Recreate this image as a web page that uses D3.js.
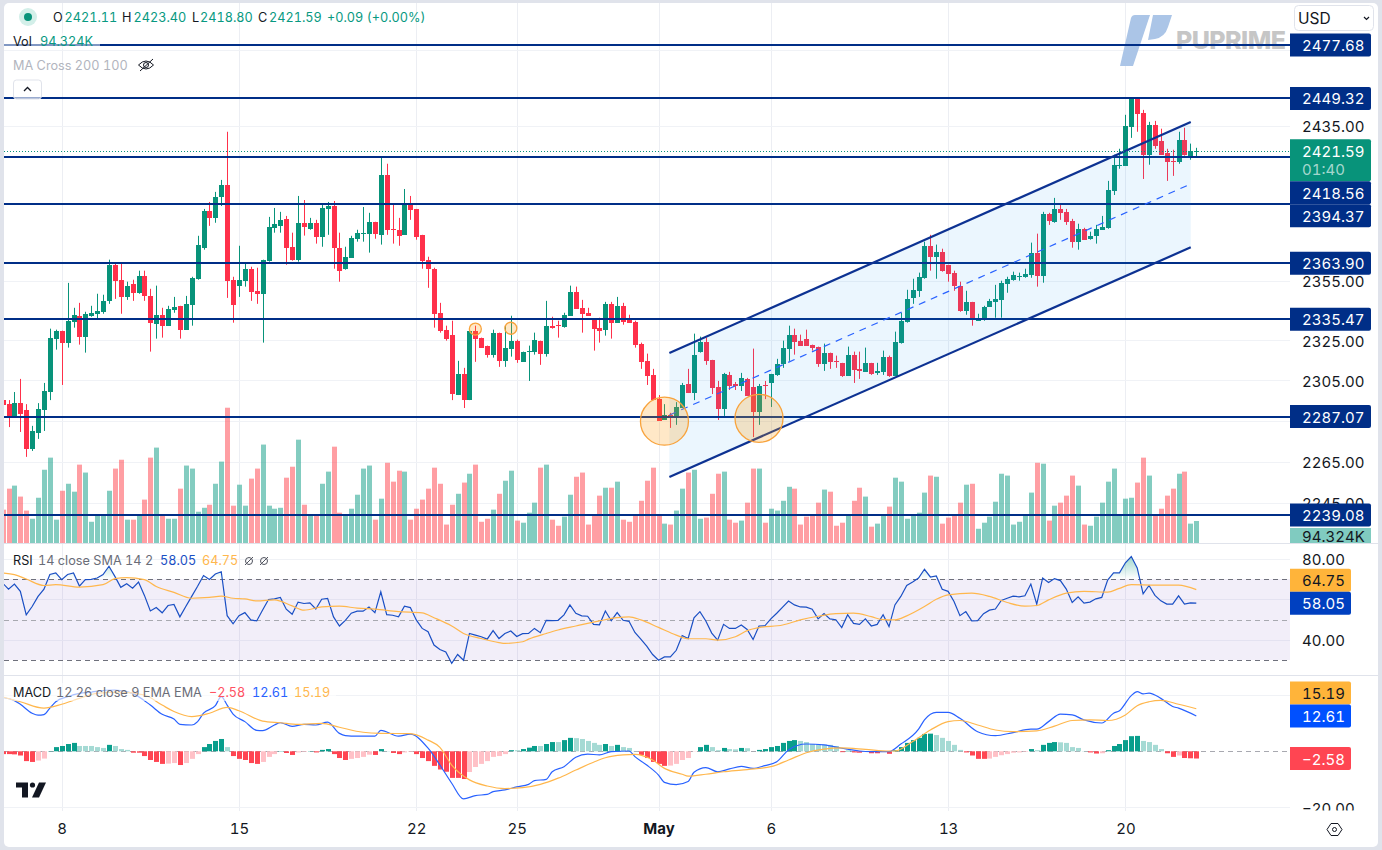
<!DOCTYPE html>
<html>
<head>
<meta charset="utf-8">
<script src="https://cdnjs.cloudflare.com/ajax/libs/d3/7.9.0/d3.min.js"></script>
<style>
  html, body { margin: 0; padding: 0; background: #e0e3eb; }
  svg { display: block; font-family: Inter, "Noto Sans", sans-serif; font-variant-numeric: tabular-nums; }
  .axis text { font-size: 15px; fill: #131722; font-family: Inter, sans-serif; }
  .axis path, .axis line { display: none; }
</style>
</head>
<body>
<svg id="chart" width="1382" height="850"></svg>
<script>
// H4 bars, first one is cut off at the left edge
let opens = [2295.2,
  2293.2,2287.3,2293.7,2290.3,2271.2,2279,2290.3,2299.2,2325.8,2329.8,
  2323.8,2334.3,2337.3,2326.8,2337.3,2338.3,2339.3,2344.8,2363.1,2355.5,
  2346.8,2353.5,2348.9,2357.5,2347.3,2333.3,2337.8,2332.3,2340.3,2342.3,
  2330.3,2342.8,2356,2371.8,2390.7,2387.1,2397.9,2404.1,2355.5,2352.5,
  2355,2361.1,2349.9,2348.4,2365.2,2382,2383,2386.6,2372.3,2365.7,
  2384.6,2381.5,2384.6,2377.4,2391.7,2393.2,2371.8,2361.1,2366.7,2376.4,
  2379.2,2379,2385.1,2378.4,2409.4,2381.5,2381,2378.4,2394.3,2391.7,
  2378.4,2365.7,2361.1,2338.8,2330.3,2327.8,2297.7,2308.2,2295.2,2329.8,
  2326.3,2322.3,2317.8,2328.8,2314.7,2320.8,2324.8,2314.2,2319.5,2319.3,
  2324.8,2318.3,2332.3,2332.8,2331.8,2337.3,2349.4,2341.3,2338.8,2335.8,
  2331.3,2330.3,2343.3,2333.8,2342.3,2335.3,2334.3,2323.3,2314.7,2307.7,
  2295.7,2285.4,2287.9,2287.4,2291.3,2303.2,2298.7,2319.3,2324.3,2315.2,
  2301.7,2290.8,2307.7,2303.2,2302.2,2305.7,2301.7,2289.3,2302.7,2303.7,
  2307.7,2313.2,2320.8,2327.8,2324.8,2325.8,2322.8,2321.8,2313.2,2318.8,
  2314.7,2313.7,2307.2,2317.8,2310.7,2309.2,2313.7,2308.7,2309.2,2316.8,
  2307.2,2323.8,2334.3,2346.3,2349.9,2356.5,2372.8,2367.2,2369.8,2363.1,
  2359.1,2352.5,2339.8,2344.3,2334.8,2335.8,2341.8,2344.3,2345.3,2353.5,
  2355.5,2357.3,2357,2358.1,2369.3,2357.5,2389.2,2385.1,2391.7,2390.2,
  2385.6,2374.9,2381.5,2376.4,2378,2381,2382,2401,2414.4,2414,
  2434.4,2449.5,2441.7,2419.8,2435.5,2427.1,2420.8,2416.7,2416.1,2427.6,2419.3,2421.11]

let highs = [2295.2,
  2295.2,2299.2,2305.7,2293.2,2282.5,2293.7,2303.7,2330.8,2330.3,2329.8,
  2353.9,2341.3,2343.8,2339.3,2342.3,2348.4,2347.9,2365.7,2364.2,2364.2,
  2354.5,2355.5,2360.1,2360.1,2350.9,2352.5,2341.3,2342.3,2346.8,2342.3,
  2347.3,2357,2377.9,2391.7,2395.3,2400.5,2406.7,2431.8,2357,2372.8,
  2364.2,2362.1,2361.6,2365.7,2387.6,2392.2,2390.2,2388.1,2379.5,2398.4,
  2396.3,2387.1,2386.1,2393.7,2395.3,2395.8,2379.5,2372.3,2377.9,2381,
  2392.7,2389.7,2385.1,2418.2,2415.1,2394.3,2387.1,2402,2398.4,2391.7,
  2378.4,2367.2,2361.6,2343.8,2332.3,2334.8,2314.7,2311.2,2329.8,2332.3,
  2326.3,2322.3,2330.3,2328.8,2332.3,2337.3,2325.3,2319.3,2322.3,2328.8,
  2324.8,2344.8,2336.8,2334.8,2338.8,2352.5,2352,2345.3,2341.3,2335.8,
  2336.3,2344.3,2344.3,2346.8,2343.8,2337.8,2334.8,2323.8,2318.3,2310.7,
  2297.7,2293.2,2288.9,2294.2,2303.7,2310.7,2328.3,2326.8,2326.3,2315.2,
  2304.7,2308.7,2309.2,2304.2,2308.7,2306.2,2320.8,2303.2,2304.7,2308.2,
  2315.7,2324.8,2332.3,2330.8,2327.8,2330.3,2322.8,2321.8,2323.3,2318.8,
  2317.3,2313.7,2321.8,2319.3,2319.3,2321.3,2313.7,2313.7,2319.8,2317.3,
  2329.3,2338.8,2350.4,2356,2359.1,2374.9,2378.4,2373.4,2371.3,2363.1,
  2360.1,2354.5,2349.9,2344.3,2338.3,2342.3,2345.8,2352.9,2355,2357,
  2359.6,2359.1,2361.1,2374.4,2379,2390.2,2389.7,2397.4,2393.7,2391.7,
  2386.6,2384.1,2382,2380,2383.5,2388.1,2406.2,2419.8,2422.9,2440.7,
  2449.5,2449.5,2443.3,2437,2437.5,2433.4,2422.9,2422.4,2431.8,2433.9,2425.6,2423.4]

let lows = [2292.7,
  2281.9,2286.4,2279.5,2267.3,2270.2,2276.1,2280,2295.2,2320.3,2302.7,
  2321.3,2331.3,2322.8,2318.8,2336.8,2335.8,2338.3,2343.3,2345.8,2338.3,
  2345.3,2344.8,2348.4,2344.8,2319.3,2325.8,2326.3,2332.3,2338.8,2325.8,
  2330.3,2332.3,2355.5,2370.8,2383,2384.6,2393.2,2346.3,2333.8,2346.8,
  2352,2344.8,2343.3,2323.8,2364.7,2379.5,2379.5,2363.1,2365.2,2364.7,
  2378,2381,2373.9,2372.3,2378.4,2361.1,2354.5,2360.6,2366.7,2374.9,
  2374.9,2369.3,2376.4,2373.4,2378.4,2373.9,2372.8,2378.4,2386.1,2375.9,
  2361.1,2351.4,2331.3,2328.8,2324.8,2295.2,2297.7,2291.3,2295.2,2314.2,
  2321.3,2316.3,2316.3,2311.7,2311.7,2316.8,2313.7,2314.2,2304.7,2317.8,
  2312.7,2316.8,2330.8,2326.3,2331.3,2337.3,2340.8,2328.8,2337.3,2319.8,
  2323.8,2327.3,2325.8,2333.8,2332.8,2333.8,2321.3,2310.7,2302.7,2295.2,
  2284.9,2285.4,2281.5,2283,2291.3,2298.7,2295.2,2318.8,2312.7,2298.2,
  2285.4,2287.4,2300.2,2300.2,2299.7,2297.2,2277,2283,2295.7,2291.8,
  2307.2,2311.2,2314.7,2317.8,2322.3,2322.3,2319.8,2311.7,2309.7,2310.7,
  2311.2,2306.7,2307.2,2303.7,2305.7,2309.2,2307.7,2307.7,2307.7,2306.7,
  2307.2,2323.3,2333.8,2343.3,2346.8,2356,2360.1,2356,2359.6,2354.5,
  2349.9,2339.3,2337.8,2332.3,2334.8,2334.8,2341.8,2336.3,2336.3,2348.9,
  2355,2355,2356.5,2356.5,2352,2354,2383.5,2384.6,2386.1,2383.5,
  2371.8,2370.8,2375.9,2375.9,2373.9,2381,2381.5,2398.9,2412.5,2414,
  2428.6,2431.8,2407.2,2414.6,2422.9,2419.8,2406.2,2408.8,2415.1,2419.3,2417.2,2418.8]

let closes = [2292.7,
  2287.3,2293.7,2288.3,2271.2,2280,2290.8,2299.7,2326.3,2329.8,2323.8,
  2334.8,2337.8,2326.8,2338.3,2338.8,2339.8,2344.8,2363.1,2355,2346.8,
  2352.5,2348.9,2357.5,2347.3,2333.8,2337.8,2332.3,2340.8,2341.8,2330.3,
  2343.3,2356.5,2373.4,2390.7,2387.1,2397.9,2404.1,2355,2342.8,2355.5,
  2361.1,2349.4,2348.4,2365.7,2382.5,2384.1,2386.1,2371.8,2365.7,2384.6,
  2382.5,2384.6,2377.4,2392.2,2393.2,2371.8,2360.1,2367.2,2376.9,2379.5,
  2379.5,2385.1,2379,2409.4,2381,2381,2378,2394.3,2391.2,2377.4,
  2365.2,2361.1,2338.3,2329.8,2325.8,2298.2,2308.2,2295.2,2329.8,2325.8,
  2321.3,2317.8,2328.8,2314.7,2321.3,2324.8,2315.2,2319.3,2319.8,2325.3,
  2318.3,2332.3,2331.3,2332.3,2337.8,2349.4,2340.8,2338.3,2337.3,2330.8,
  2329.8,2343.3,2333.8,2342.3,2334.3,2333.8,2322.8,2314.2,2307.2,2295.2,
  2284.9,2287.9,2287.4,2291.8,2302.7,2298.7,2317.8,2324.3,2314.7,2301.2,
  2290.8,2308.2,2302.2,2302.2,2306.2,2297.2,2289.3,2302.2,2302.2,2308.2,
  2313.2,2321.3,2327.8,2324.3,2322.3,2322.3,2321.3,2313.2,2318.8,2314.2,
  2314.5,2307.2,2317.8,2310.2,2309.7,2313.7,2308.2,2309.7,2316.8,2307.2,
  2324.3,2334.8,2345.8,2350.4,2357,2372.8,2367.2,2369.8,2360.1,2358.6,
  2352.5,2339.8,2344.3,2335.8,2335.8,2341.8,2344.8,2345.8,2353.9,2356,
  2358.1,2357.5,2358.6,2369.3,2357.5,2389.2,2385.6,2391.7,2389.7,2385.1,
  2374.9,2381.5,2375.9,2378,2381.5,2382.5,2401.5,2414.6,2414.6,2434.9,
  2449.5,2441.2,2419.8,2435.5,2424.5,2419.8,2416.1,2416.4,2427.6,2419.8,2421.9,2421.59]

// volume in thousands
let volumes = [143,
  233,246,199,139,104,194,314,366,100,224,
  254,220,336,302,91,117,121,224,319,357,
  100,100,117,186,366,409,117,104,104,233,
  332,319,134,151,164,254,349,580,160,250,
  160,276,319,422,160,147,151,280,327,443,
  164,117,117,254,306,413,130,117,147,207,
  319,332,100,190,344,263,310,306,100,147,
  186,233,323,254,79,164,211,259,297,336,
  91,104,143,211,267,310,96,87,130,173,
  323,336,100,74,113,207,284,302,79,117,
  203,237,237,263,100,91,117,181,267,323,
  117,83,79,139,233,302,314,104,109,211,
  297,306,100,87,96,173,319,319,87,147,
  139,181,241,233,79,113,117,173,229,220,
  74,87,117,181,237,199,70,83,117,156,
  280,263,104,121,130,216,289,284,83,109,
  121,173,250,254,61,87,113,177,297,289,
  79,91,121,216,344,340,96,160,173,203,
  289,246,79,74,113,173,263,319,121,190,
  194,259,366,289,121,147,203,233,297,306,83,94.324]

let rsiValues = [68,
  65,67.5,63.9,52.3,56.4,61.4,65,72.2,73,69.7,
  72.2,73,66.5,69.7,69.8,70.5,72.2,76.3,71.3,65.9,
  67.7,65.5,68.5,61.9,54.2,55.9,53.3,56.9,57.4,51.3,
  56.4,61.4,66.4,71.7,69.8,72.5,73.6,51.9,47.9,51.9,
  53.4,49.8,49.3,54.7,59.9,60.2,60.9,55.1,52.6,58.6,
  57.9,58.2,55.2,60,60.4,51.3,46.8,49.6,53.1,54.1,
  54.1,56.2,53.4,63.7,52.4,52.1,51.3,56.6,55.9,49.8,
  45.6,44,37.4,35.2,34,28.4,32.7,29.9,43.1,42.3,
  41.5,40.3,44.5,40.6,43.1,44.3,41.6,43,43.1,45.6,
  43.5,49.6,49.4,49.6,52.3,57.2,53.1,51.8,51.6,47.6,
  47.4,54.2,49.4,53.4,49.6,49.1,43.6,40.3,36.8,32.7,
  29.9,31.5,31.5,34.8,42.1,40.6,50.8,53.9,49.3,43.3,
  39.8,47.6,45.6,45.6,47.3,45.1,40.1,46.8,46.9,50.3,
  53.1,56.1,59.1,57.2,56.2,56.1,55.1,50.3,52.9,50.3,
  49.9,46,52.4,48.1,47.6,50.3,46.8,47.6,52.4,46.5,
  57.2,61.4,66.8,68.5,70.5,74.8,71,71.5,64.9,63.9,
  58.9,51.9,53.9,49.3,49.4,52.9,54.6,55.2,59.4,60.5,
  61.5,61.2,61.7,67.5,57.6,70.5,68.3,70.2,69.2,65,
  58.4,61.2,58.1,58.6,60.2,60.9,69.5,73,73,78,
  81.1,75.5,62.7,66.8,61.9,59.2,57.6,57.6,61.7,57.6,58.2,58.05]

let macdHist = [-1,
  -1,-1.1,-1.5,-3.5,-3.8,-3.3,-2.6,0.1,1.5,1.9,
  2.6,3,1.9,1.9,1.9,1.5,1.2,2.3,1.9,0.8,
  0.5,-0.5,-0.5,-1.7,-3.1,-3.8,-4.5,-4.4,-4.2,-4.9,
  -4.2,-2.7,-1,1.5,2.6,3.7,4.4,1.5,-1.7,-2.7,
  -3.1,-4.2,-4.5,-3.8,-2,-1,0.1,-0.6,-1.3,-0.4,
  -0.2,0.1,-0.4,0.5,0.8,-1,-2.4,-3.1,-2.7,-2.4,
  -2,-1.2,-1.3,0.8,0.1,-0.6,-1,-0.4,-0.2,-1,
  -2.4,-3.5,-5.2,-6.5,-7.3,-9.5,-9.5,-9.9,-7.4,-5.6,
  -4.5,-3.5,-2,-1.7,-1,0.4,0.4,0.8,1.3,1.9,
  1.9,2.6,3.3,3.3,4,4.8,4.7,4.4,3.7,3,
  2.3,2.6,1.9,2.3,1.5,1.2,0.1,-1.3,-2.4,-3.8,
  -4.5,-5.2,-5.1,-4.5,-3.1,-2.4,-0.1,1.5,2.3,1.5,
  0.4,1.2,0.8,0.7,1.2,1.1,0,0.5,0.8,1.5,
  1.9,3,3.7,4,3.7,3.3,2.6,2.5,2.4,2.3,
  1.9,-0.3,0.2,-0.4,-0.5,-0.2,-0.7,-0.7,-0.3,-0.9,
  0.4,1.5,3,4,4.8,6.2,6.3,5.8,4.8,3.7,
  2.3,0.5,-0.4,-1.5,-2.7,-2.7,-2.6,-2,-1.4,-1,
  -0.5,-0.4,-0.2,0.8,0.4,2.3,3,3.3,3.2,3,
  1.5,1.2,0.1,-0.4,-0.8,-0.7,0.4,1.9,2.6,4,
  5.4,5.5,3.7,3.3,2.3,0.8,-0.7,-2,-1.5,-2.4,-2.5,-2.58]

// smooth lines read at their bends, each value sits on the bar index next to it
let rsiMaBars = [0,2,4,7,9,13,17,19,21,24,26,29,32,35,37,39,41,43,46,49,51,54,57,60,63,67,71,73,76,78,81,84,85,88,89,92,94,97,99,101,104,106,108,111,114,116,119,121,124,126,128,132,135,138,141,144,147,149,151,153,156,158,160,164,167,170,173,175,177,180,183,187,189,191,195,199,202]
let rsiMaValues = [73,72.2,70,66.8,67.2,66,67.2,70.2,70.7,69.7,66.3,63.4,60.5,60.9,61.5,60.5,60.2,59.2,59.7,56.7,54.6,56.2,56.6,55.6,55.1,53.9,53.3,50.9,46.8,43.1,40.6,38.6,38.2,39,40.3,43.1,44.8,46.8,48.1,49.3,50.9,51.3,49.8,46.1,42.3,40.5,40.5,39.8,41.5,44.5,46,47.3,49.8,51.6,52.9,53.1,51.4,49.9,49.8,51.8,56.4,60,62.2,63,61.4,58.4,56.6,56.9,59.7,63,63.9,63.5,65.4,67.2,67,67,64.75]

let macdBars = [0,2,3,5,6,7,8,9,11,13,15,16,19,20,22,25,27,29,30,32,33,34,36,37,38,39,41,43,44,46,47,49,51,53,55,57,58,60,63,64,67,69,72,74,76,78,80,82,83,85,87,89,90,92,93,95,97,99,101,103,106,107,109,111,112,114,116,117,119,121,123,125,127,129,131,133,136,139,142,145,147,150,152,155,156,158,160,162,165,168,171,174,175,177,179,181,183,186,188,189,191,192,193,194,196,198,199,202]
let macdValues = [19.2,18.1,16.8,13.6,12.9,13.1,15.4,17.7,19.5,20.7,21.1,21.5,21.9,21.7,20.7,16.5,13.2,11.5,9.6,9.4,10.6,13.6,16.3,19.5,16.5,13.3,10.6,7.5,7.4,9.4,10.2,8.9,9.6,9.4,10.4,6.4,5.6,5.4,5.4,7.5,5.4,6.1,1.1,-4.9,-11.4,-17,-15.8,-15.4,-14.4,-13.8,-12.7,-11.8,-10.5,-10,-7.3,-5.5,-2.1,-1,-1.3,-0.1,0.1,-1.9,-4.9,-8.5,-11.1,-11.9,-10.8,-7.5,-5.8,-7.3,-6.3,-5.4,-6.1,-5.1,-3.7,0.5,2.6,2.3,1.1,0.1,-0.1,-0.1,2.6,7.9,11.2,13.9,13.9,11.8,7,5.6,6.7,7.9,7.9,10.6,13.3,13,11.2,10.1,13.6,14.5,19.9,21.3,20.5,20.8,18.9,16,15.4,12.61]

let signalBars = [0,3,7,10,13,16,20,24,27,29,32,35,38,40,44,47,50,54,57,61,64,69,72,74,76,79,82,85,88,91,94,97,100,102,105,107,110,112,115,116,119,122,125,128,130,133,136,139,142,146,150,151,154,157,160,162,165,168,171,175,178,181,184,187,190,192,194,196,199,202]
let signalValues = [19.4,17.7,15.4,16.8,18.9,20.7,21.1,20.1,16.5,14.2,12.4,13.6,15.7,14.5,10.8,10.2,9.6,10,8.6,6.8,6.4,6.3,4,1.4,-4.9,-10.2,-12.4,-13.3,-13,-11.8,-9.6,-6.7,-3.9,-2.3,-1.3,-1.1,-3.1,-6.1,-8.2,-8.9,-8.2,-7.3,-6.7,-6.1,-5.5,-3.1,-0.5,0.8,1.2,0.7,0.1,0.1,3.5,7.6,10.6,11,9.4,7.6,7,7.3,9,11,11.2,11,13,16.3,17.7,18.2,16.8,15.19]

let levels = [2477.68, 2449.32, 2418.56, 2394.37, 2363.90, 2335.47, 2287.07, 2239.08]
let priceGrid = [2475, 2435, 2395, 2355, 2325, 2305, 2285, 2265, 2245]
let priceTicks = [2435, 2355, 2325, 2305, 2265, 2245]
let lastPrice = 2421.59

let dateBars = [10, 40, 70, 87, 111, 130, 160, 190]
let dateLabels = ['8', '15', '22', '25', 'May', '6', '13', '20']

// parallel channel, two anchor bars
let channelBars = [112.83, 201.06]
let channelTop = [2318.6, 2436.9]
let channelMid = [2287.8, 2404.6]
let channelBottom = [2257.5, 2372]

let circleBars = [112, 128, 80, 86]
let circlePrices = [2284.8, 2286.2, 2330.6, 2331]
let circleSizes = [24, 24, 6, 6]

let rsiGrid = [80, 60, 40]
let rsiTicks = [80, 40]
let rsiBands = [70, 50, 30]
let macdTicks = [0, -20]

let green = '#08937a'
let red = '#ff304a'
let navy = '#002e87'
let gridColor = '#f0f2f6'
let paneRight = 1290

let svg = d3.select('#chart')
let defs = svg.append('defs')

let x = d3.scaleLinear().domain([0, 202]).range([2.6, 1196.3])
let priceY = d3.scaleLog().domain([2239.08, 2477.68]).range([515, 45])
let volumeY = d3.scaleLinear().domain([0, 94.324]).range([543, 521])
let rsiY = d3.scaleLinear().domain([30, 70]).range([660, 579])
let macdY = d3.scaleLinear().domain([-20, 20]).range([807.3, 695.3])

let bars = d3.range(opens.length)
let up = (i) => closes[i] >= opens[i]

let clip = (id, ax, ay, w, h) => {
  defs.append('clipPath').attr('id', id).append('rect')
    .attr('x', ax).attr('y', ay).attr('width', w).attr('height', h)
}
clip('plot', 4, 3, paneRight - 4, 540)
clip('rsiPane', 4, 545, paneRight - 4, 130)
clip('macdPane', 4, 677, paneRight - 4, 135)
clip('rsiOver', 4, 545, paneRight - 4, rsiY(70) - 545)
clip('macdAxis', 1290, 677, 90, 133.5)

// white card on the grey page
svg.append('rect').attr('x', 4).attr('y', 3).attr('width', 1374).attr('height', 844)
  .attr('rx', 5).attr('fill', '#fff')

// grid
let grid = svg.append('g').attr('stroke', gridColor).attr('stroke-width', 1)
grid.selectAll('.v').data(dateBars).enter().append('line')
  .attr('x1', (d) => Math.round(x(d)) + 0.5).attr('x2', (d) => Math.round(x(d)) + 0.5)
  .attr('y1', 3).attr('y2', 811).attr('stroke', '#eceef3')
grid.selectAll('.p').data(priceGrid).enter().append('line')
  .attr('x1', 4).attr('x2', paneRight)
  .attr('y1', (d) => Math.round(priceY(d)) + 0.5).attr('y2', (d) => Math.round(priceY(d)) + 0.5)
grid.selectAll('.r').data(rsiGrid).enter().append('line')
  .attr('x1', 4).attr('x2', paneRight)
  .attr('y1', (d) => Math.round(rsiY(d)) + 0.5).attr('y2', (d) => Math.round(rsiY(d)) + 0.5)
grid.selectAll('.m').data([20, -20]).enter().append('line')
  .attr('x1', 4).attr('x2', paneRight)
  .attr('y1', (d) => Math.round(macdY(d)) + 0.5).attr('y2', (d) => Math.round(macdY(d)) + 0.5)

// watermark
let mark = svg.append('g')
mark.append('path').attr('fill', '#abc5e7')
  .attr('d', 'M1131 18 Q1132 15 1135 15 L1150 15 L1133 66 L1120 66 Z')
mark.append('path').attr('fill', '#abc5e7')
  .attr('d', 'M1153 15 L1172 15 L1168 27 Q1165 37 1155 39 L1148 40 Z')
mark.append('text').attr('x', 1176).attr('y', 49).attr('font-size', 25).attr('font-weight', 800)
  .attr('font-family', 'Inter, sans-serif').attr('fill', '#c6c6c6').attr('textLength', 110).text('PUPRIME')

// volume
let plot = svg.append('g').attr('clip-path', 'url(#plot)')
plot.selectAll('.vol').data(bars).enter().append('rect')
  .attr('x', (i) => Math.round(x(i)) - 2)
  .attr('y', (i) => volumeY(volumes[i]))
  .attr('width', 5)
  .attr('height', (i) => volumeY(0) - volumeY(volumes[i]))
  .attr('fill', (i) => up(i) ? 'rgba(8,153,129,.5)' : 'rgba(255,61,72,.5)')

// candles
plot.selectAll('.wick').data(bars).enter().append('rect')
  .attr('x', (i) => Math.round(x(i)))
  .attr('y', (i) => priceY(highs[i]))
  .attr('width', 1)
  .attr('height', (i) => Math.max(1, priceY(lows[i]) - priceY(highs[i])))
  .attr('fill', (i) => up(i) ? green : red)
plot.selectAll('.body').data(bars).enter().append('rect')
  .attr('x', (i) => Math.round(x(i)) - 2)
  .attr('y', (i) => Math.round(priceY(Math.max(opens[i], closes[i]))))
  .attr('width', 5)
  .attr('height', (i) => Math.max(1, Math.round(priceY(Math.min(opens[i], closes[i]))) - Math.round(priceY(Math.max(opens[i], closes[i])))))
  .attr('fill', (i) => up(i) ? green : red)

// last price dotted line
svg.append('line').attr('x1', 4).attr('x2', paneRight)
  .attr('y1', Math.round(priceY(lastPrice)) + 0.5).attr('y2', Math.round(priceY(lastPrice)) + 0.5)
  .attr('stroke', green).attr('stroke-dasharray', '1 2')

// horizontal levels
plot.selectAll('.level').data(levels).enter().append('line')
  .attr('x1', 4).attr('x2', paneRight)
  .attr('y1', (d) => Math.round(priceY(d))).attr('y2', (d) => Math.round(priceY(d)))
  .attr('stroke', navy).attr('stroke-width', 2)

// channel sits on top of the candles
let chan = plot.append('g')
let chanLine = d3.line().x((d) => x(d[0])).y((d) => priceY(d[1]))
let chanFill = channelBars.map((b, k) => [b, channelTop[k]])
  .concat(channelBars.map((b, k) => [b, channelBottom[k]]).reverse())
chan.append('path').attr('d', chanLine(chanFill) + 'Z').attr('fill', 'rgba(33,150,243,.09)')
chan.append('path').attr('d', chanLine(channelBars.map((b, k) => [b, channelMid[k]])))
  .attr('stroke', '#2962ff').attr('stroke-width', 1.2).attr('stroke-dasharray', '7 6').attr('fill', 'none')
chan.selectAll('.edge').data([channelTop, channelBottom]).enter().append('path')
  .attr('d', (e) => chanLine(channelBars.map((b, k) => [b, e[k]])))
  .attr('stroke', '#0d3292').attr('stroke-width', 2.2).attr('fill', 'none')

// orange marks
plot.selectAll('.mark').data(circleBars).enter().append('circle')
  .attr('cx', (d) => x(d))
  .attr('cy', (d, k) => priceY(circlePrices[k]))
  .attr('r', (d, k) => circleSizes[k])
  .attr('fill', 'rgba(255,152,0,.22)').attr('stroke', '#f8a33c').attr('stroke-width', 1.3)

// RSI pane
let rsiPane = svg.append('g').attr('clip-path', 'url(#rsiPane)')
rsiPane.append('rect').attr('x', 4).attr('width', paneRight - 4)
  .attr('y', rsiY(70)).attr('height', rsiY(30) - rsiY(70)).attr('fill', 'rgba(126,87,194,.1)')
rsiPane.selectAll('.band').data(rsiBands).enter().append('line')
  .attr('x1', 4).attr('x2', paneRight)
  .attr('y1', (d) => Math.round(rsiY(d)) + 0.5).attr('y2', (d) => Math.round(rsiY(d)) + 0.5)
  .attr('stroke', (d) => d === 50 ? '#a8a9b0' : '#6f717c').attr('stroke-dasharray', '5 4')

let overGrad = defs.append('linearGradient').attr('id', 'overGrad')
  .attr('gradientUnits', 'userSpaceOnUse').attr('x1', 0).attr('x2', 0).attr('y1', rsiY(80)).attr('y2', rsiY(70))
overGrad.append('stop').attr('offset', 0).attr('stop-color', '#089981').attr('stop-opacity', 0.35)
overGrad.append('stop').attr('offset', 1).attr('stop-color', '#089981').attr('stop-opacity', 0)
rsiPane.append('path')
  .attr('clip-path', 'url(#rsiOver)')
  .attr('d', d3.area().x((i) => x(i)).y0(rsiY(70)).y1((i) => rsiY(rsiValues[i]))(bars))
  .attr('fill', 'url(#overGrad)')

rsiPane.append('path')
  .attr('d', d3.line().x((i) => x(i)).y((i) => rsiY(rsiValues[i]))(bars))
  .attr('fill', 'none').attr('stroke', '#1a4fc4').attr('stroke-width', 1.2)
rsiPane.append('path')
  .attr('d', d3.line().curve(d3.curveMonotoneX).x((b) => x(b)).y((b, k) => rsiY(rsiMaValues[k]))(rsiMaBars))
  .attr('fill', 'none').attr('stroke', '#ffb74d').attr('stroke-width', 1.2)

// MACD pane
let macdPane = svg.append('g').attr('clip-path', 'url(#macdPane)')
macdPane.append('line').attr('x1', 4).attr('x2', paneRight)
  .attr('y1', Math.round(macdY(0)) + 0.5).attr('y2', Math.round(macdY(0)) + 0.5)
  .attr('stroke', '#a8a9b0').attr('stroke-dasharray', '5 4')
macdPane.selectAll('.hist').data(bars).enter().append('rect')
  .attr('x', (i) => Math.round(x(i)) - 2)
  .attr('width', 5)
  .attr('y', (i) => Math.min(macdY(0), macdY(macdHist[i])))
  .attr('height', (i) => Math.abs(macdY(macdHist[i]) - macdY(0)))
  .attr('fill', (i) => {
    let v = macdHist[i]
    let prev = i > 0 ? macdHist[i - 1] : v
    if (v >= 0) {
      return v > prev ? '#089e8c' : '#a5dad4'
    }
    return v > prev ? '#ffc1c7' : '#ff4552'
  })
let lineOn = (xs, vs) => d3.line().curve(d3.curveMonotoneX).x((b) => x(b)).y((b, k) => macdY(vs[k]))(xs)
macdPane.append('path').attr('d', lineOn(macdBars, macdValues))
  .attr('fill', 'none').attr('stroke', '#2962ff').attr('stroke-width', 1.2)
macdPane.append('path').attr('d', lineOn(signalBars, signalValues))
  .attr('fill', 'none').attr('stroke', '#ffb74d').attr('stroke-width', 1.2)

// pane separators
svg.selectAll('.sep').data([543.5, 675.5]).enter().append('line')
  .attr('x1', 4).attr('x2', 1378).attr('y1', (d) => d).attr('y2', (d) => d)
  .attr('stroke', '#e0e3eb')

// axes
let yAxis = (scale, ticks) => d3.axisRight(scale).tickValues(ticks).tickSize(0).tickPadding(0).tickFormat(d3.format('.2f'))
svg.append('g').attr('class', 'axis').attr('transform', 'translate(1302,1)').call(yAxis(priceY, priceTicks))
svg.append('g').attr('class', 'axis').attr('transform', 'translate(1302,1)').call(yAxis(rsiY, rsiTicks))
svg.append('g').attr('clip-path', 'url(#macdAxis)').append('g').attr('class', 'axis').attr('transform', 'translate(1302,1)')
  .call(yAxis(macdY, macdTicks))
let dateAxis = svg.append('g').attr('class', 'axis').attr('transform', 'translate(0,823.5)')
  .call(d3.axisBottom(x).tickValues(dateBars).tickSize(0).tickPadding(0).tickFormat((d, k) => dateLabels[k]))
dateAxis.selectAll('text').style('font-weight', (d, k) => dateLabels[k] === 'May' ? 700 : 400)

// right side price tags
let tag = (ay, h, w, color, label, textColor) => {
  let g = svg.append('g')
  g.append('path')
    .attr('d', 'M1290 ' + ay + 'H' + (1290 + w - 2) + 'q2 0 2 2V' + (ay + h - 2) + 'q0 2 -2 2H1290Z')
    .attr('fill', color)
  g.append('text').attr('x', 1302).attr('y', ay + h / 2 + 6)
    .attr('font-size', 15).attr('fill', textColor || '#fff').text(label)
  return g
}

// the current price tag is fixed, level tags get pushed below it
let lastY = priceY(lastPrice)
let lastTop = lastY - 12
let lastTag = tag(lastTop, 42, 81, green, '2421.59')
lastTag.select('text').attr('y', lastTop + 18)
lastTag.append('text').attr('x', 1302).attr('y', lastTop + 36)
  .attr('font-size', 15).attr('fill', 'rgba(255,255,255,.65)').text('01:40')

let prevBottom = 0
levels.forEach((lv) => {
  let top = priceY(lv) - 11.5
  if (lv < lastPrice) {
    top = Math.max(top, Math.max(prevBottom, lastTop + 42))
  }
  tag(top, 23, 81, navy, lv.toFixed(2))
  if (lv < lastPrice) {
    prevBottom = top + 23
  }
})
svg.append('rect').attr('x', 1290).attr('y', 528).attr('width', 81).attr('height', 15).attr('fill', '#80cbc0')
svg.append('text').attr('x', 1302).attr('y', 542).attr('font-size', 15).attr('fill', '#131722').text('94.324K')

let rsiBlueTop = rsiY(58.05) - 11.5
tag(rsiBlueTop - 23, 23, 61, '#ffb43a', '64.75', '#131722')
tag(rsiBlueTop, 23, 61, '#0040c0', '58.05')
let macdBlueTop = macdY(12.61) - 11.5
tag(macdBlueTop - 23, 23, 61, '#ffb43a', '15.19', '#131722')
tag(macdBlueTop, 23, 61, '#0050ff', '12.61')
tag(macdY(-2.58) - 11.5, 23, 61, '#ff4552', '\u22122.58')

// legends, the lines underneath show through faintly
let legendSize = 12.7
let txt = (ax, ay, s, color, size, weight) => svg.append('text').attr('x', ax).attr('y', ay).attr('font-size', size || legendSize)
  .attr('fill', color).attr('font-weight', weight || 400).text(s)

svg.append('circle').attr('cx', 28).attr('cy', 17).attr('r', 9).attr('fill', '#d3efe9')
svg.append('circle').attr('cx', 28).attr('cy', 17).attr('r', 4).attr('fill', green)

let ink = '#131722'
let teal = '#089981'
txt(53, 22, 'O', ink); txt(64.5, 22, '2421.11', teal)
txt(122, 22, 'H', ink); txt(133.5, 22, '2423.40', teal)
txt(192, 22, 'L', ink); txt(200, 22, '2418.80', teal)
txt(258, 22, 'C', ink); txt(269, 22, '2421.59', teal)
txt(327, 22, '+0.09 (+0.00%)', teal)

svg.append('rect').attr('x', 4).attr('y', 33).attr('width', 96).attr('height', 16).attr('fill', 'rgba(255,255,255,.5)')
txt(13, 46, 'Vol', ink)
txt(40, 46, '94.324K', teal)

txt(13, 70, 'MA Cross 200 100', '#b2b5be')
let eye = svg.append('g').attr('fill', 'none').attr('stroke', '#131722').attr('stroke-width', 1)
eye.append('path').attr('d', 'M138.5 65 Q146 57 153.5 65 Q146 73 138.5 65Z')
eye.append('circle').attr('cx', 146).attr('cy', 65).attr('r', 2.5)
eye.append('line').attr('x1', 140).attr('y1', 71).attr('x2', 153).attr('y2', 59)

svg.append('rect').attr('x', 13.5).attr('y', 80).attr('width', 28).attr('height', 19).attr('rx', 3)
  .attr('fill', '#fff').attr('fill-opacity', 0.6).attr('stroke', '#e0e3eb')
svg.append('path').attr('d', 'M24 91 L27.5 87.5 L31 91').attr('fill', 'none').attr('stroke', '#131722').attr('stroke-width', 1.3)

txt(13, 565, 'RSI', ink)
txt(38, 565, '14 close SMA 14 2', '#6a6d78')
txt(160, 565, '58.05', '#1a4fc4')
txt(202, 565, '64.75', '#ffb74d')
let noSign = (cx, cy) => {
  let g = svg.append('g').attr('fill', 'none').attr('stroke', '#50535e').attr('stroke-width', 1)
  g.append('circle').attr('cx', cx).attr('cy', cy).attr('r', 3.5)
  g.append('line').attr('x1', cx - 4).attr('y1', cy + 4).attr('x2', cx + 4).attr('y2', cy - 4)
}
noSign(249, 561)
noSign(264, 561)

svg.append('rect').attr('x', 4).attr('y', 683).attr('width', 332).attr('height', 18).attr('fill', 'rgba(255,255,255,.6)')
txt(13, 697, 'MACD', ink)
txt(56, 697, '12 26 close 9 EMA EMA', '#6a6d78')
txt(209, 697, '\u22122.58', '#ff5262')
txt(252, 697, '12.61', '#2962ff')
txt(294, 697, '15.19', '#ffb74d')

// TradingView mark
let tv = svg.append('g').attr('fill', '#131722')
tv.append('path').attr('d', 'M16 782.5H28V797.5H22V787.5H16Z')
tv.append('circle').attr('cx', 32.5).attr('cy', 785).attr('r', 2.6)
tv.append('path').attr('d', 'M39 782.5H46L39 797.5H32Z')

// currency box
svg.append('rect').attr('x', 1294.5).attr('y', 5.5).attr('width', 79).attr('height', 25).attr('rx', 4)
  .attr('fill', '#fff').attr('stroke', '#e0e3eb')
txt(1298, 24, 'USD', ink, 15.5)
svg.append('path').attr('d', 'M1364 17 L1366.5 19.5 L1369 17').attr('fill', 'none').attr('stroke', ink).attr('stroke-width', 1.2)

// settings hexagon
let hex = svg.append('g').attr('fill', 'none').attr('stroke', ink).attr('stroke-width', 1)
hex.append('path').attr('d', 'M1331 823.5 H1338 L1342 829.5 L1338 835.5 H1331 L1327 829.5 Z')
hex.append('circle').attr('cx', 1334.5).attr('cy', 829.5).attr('r', 2)
</script>
</body>
</html>
